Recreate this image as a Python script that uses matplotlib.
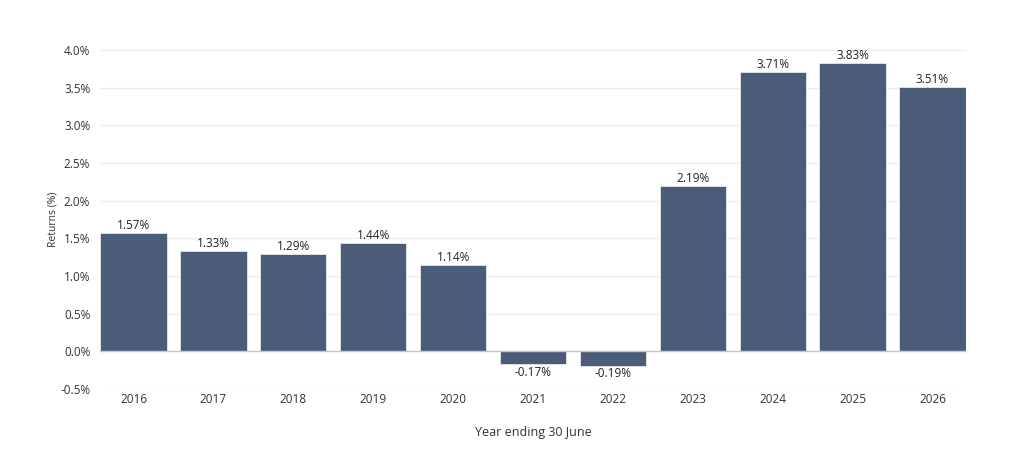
import matplotlib
matplotlib.use("Agg")
import matplotlib.pyplot as plt
from matplotlib.ticker import FuncFormatter

years = ["2016", "2017", "2018", "2019", "2020", "2021", "2022", "2023", "2024", "2025", "2026"]
returns = [1.57, 1.33, 1.29, 1.44, 1.14, -0.17, -0.19, 2.19, 3.71, 3.83, 3.51]
yticks = [-0.5, 0.0, 0.5, 1.0, 1.5, 2.0, 2.5, 3.0, 3.5, 4.0]

plt.rcParams['font.family'] = ['Open Sans', 'DejaVu Sans']

fig = plt.figure(figsize=(10.13, 4.5), dpi=100)
ax = fig.add_axes([100/1013, 61/450, 866/1013, 339/450])

x = list(range(len(years)))
ax.bar(x, returns, width=0.83, color="#4b5c78", edgecolor="#e8e8e8", linewidth=0.6, zorder=3)

for xi, v in zip(x, returns):
    if v >= 0:
        ax.text(xi, v + 0.015, f"{v:.2f}%", ha="center", va="bottom", fontsize=8.5, color="#222222")
    else:
        ax.text(xi, v - 0.02, f"{v:.2f}%", ha="center", va="top", fontsize=8.5, color="#222222")

ax.set_xlim(-0.42, 10.42)
ax.set_ylim(-0.5, 4.0)
ax.set_yticks(yticks)
ax.yaxis.set_major_formatter(FuncFormatter(lambda v, p: f"{v:.1f}%"))
ax.set_xticks(x)
ax.set_xticklabels(years)
ax.grid(axis="y", color="#ebebeb", linewidth=0.8, zorder=0)
ax.axhline(0, color="#c8c8c8", linewidth=1.0, zorder=4)
for s in ax.spines.values():
    s.set_visible(False)
ax.tick_params(axis="both", length=0, labelsize=8.5, colors="#333333")
ax.tick_params(axis="x", pad=3)
ax.tick_params(axis="y", pad=7)
ax.set_ylabel("Returns (%)", fontsize=7.5, color="#333333", labelpad=1)
ax.set_xlabel("Year ending 30 June", fontsize=9, color="#333333", labelpad=14)

fig.savefig("out.png", dpi=100, facecolor="white")
